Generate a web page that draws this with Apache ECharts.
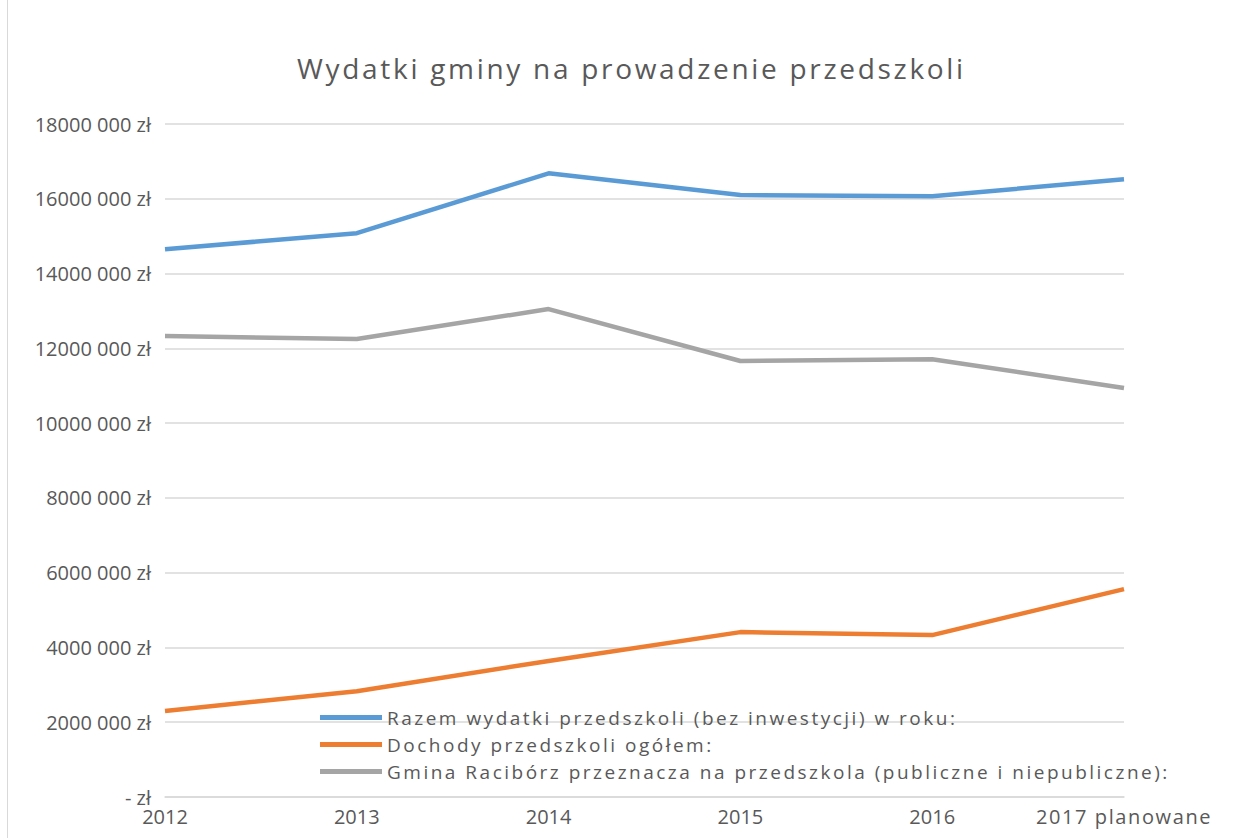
<!DOCTYPE html>
<html>
<head>
<meta charset="utf-8">
<script src="https://cdn.jsdelivr.net/npm/echarts@6/dist/echarts.min.js"></script>
<style>
  html, body { margin: 0; padding: 0; background: #fff; }
  #chart_view { width: 1237px; height: 838px; }
</style>
</head>
<body>
<div id="chart_view"></div>
<script>
// data
var years = ['2012', '2013', '2014', '2015', '2016', '2017 planowane'];
var razemWydatki = [14650000, 15080000, 16680000, 16100000, 16070000, 16520000];
var dochody = [2300000, 2830000, 3640000, 4410000, 4330000, 5560000];
var gminaPrzeznacza = [12330000, 12250000, 13050000, 11660000, 11710000, 10940000];
var seriesNames = [
    'Razem wydatki przedszkoli (bez inwestycji) w roku:',
    'Dochody przedszkoli ogółem:',
    'Gmina Racibórz przeznacza na przedszkola (publiczne i niepubliczne):'
];
var titleText = 'Wydatki gminy na prowadzenie przedszkoli';

var font = '"Open Sans", "Liberation Sans", sans-serif';
var grey = '#595959';

function formatZl(v) {
    if (v === 0) return '- zł';
    var k = Math.floor(v / 1000);
    var r = String(v % 1000).padStart(3, '0');
    return k + ' ' + r + ' zł';
}

var myChart = echarts.init(document.getElementById('chart_view'), null, { renderer: 'svg' });

var option = {
    animation: false,
    textStyle: { fontFamily: font },
    title: {
        text: titleText,
        left: 292,
        top: 49,
        textStyle: { fontSize: 28, fontWeight: 'normal', color: grey, fontFamily: font }
    },
    graphic: [{
        type: 'rect',
        shape: { x: 7.5, y: -1, width: 1240, height: 850 },
        style: { fill: 'none', stroke: '#d9d9d9', lineWidth: 1 }
    }],
    legend: {
        orient: 'vertical',
        left: 315,
        top: 703,
        itemWidth: 62,
        itemHeight: 5,
        itemGap: 8,
        icon: 'rect',
        textStyle: { fontSize: 19, color: grey, fontFamily: font },
        data: seriesNames
    },
    grid: { left: 165, right: 113, top: 124, bottom: 41 },
    xAxis: {
        type: 'category',
        boundaryGap: false,
        data: years,
        axisLine: { lineStyle: { color: '#d9d9d9', width: 1.5 } },
        axisTick: { show: false },
        axisLabel: { color: grey, fontSize: 20, margin: 9, lineHeight: 20, interval: 0, hideOverlap: false, fontFamily: font }
    },
    yAxis: {
        type: 'value',
        min: 0,
        max: 18000000,
        interval: 2000000,
        axisLine: { show: false },
        axisTick: { show: false },
        splitLine: { lineStyle: { color: '#d9d9d9', width: 1.5 } },
        axisLabel: { color: grey, fontSize: 20, margin: 14, lineHeight: 15, formatter: formatZl, fontFamily: font }
    },
    series: [
        {
            name: seriesNames[0], type: 'line', data: razemWydatki,
            symbol: 'none', lineStyle: { width: 4.5, color: '#5B9BD5' }, itemStyle: { color: '#5B9BD5' }
        },
        {
            name: seriesNames[1], type: 'line', data: dochody,
            symbol: 'none', lineStyle: { width: 4.5, color: '#ED7D31' }, itemStyle: { color: '#ED7D31' }
        },
        {
            name: seriesNames[2], type: 'line', data: gminaPrzeznacza,
            symbol: 'none', lineStyle: { width: 4.5, color: '#A5A5A5' }, itemStyle: { color: '#A5A5A5' }
        }
    ]
};

myChart.setOption(option);

// the original (Excel) text is spaced out, widen the svg text a bit
var spacing = {};
spacing[titleText] = 2.7;
seriesNames.forEach(function (n) { spacing[n] = 2.5; });
spacing['2017 planowane'] = 1.6;
document.querySelectorAll('#chart_view text').forEach(function (t) {
    var s = spacing[t.textContent];
    if (s) t.setAttribute('letter-spacing', s + 'px');
});
</script>
</body>
</html>
